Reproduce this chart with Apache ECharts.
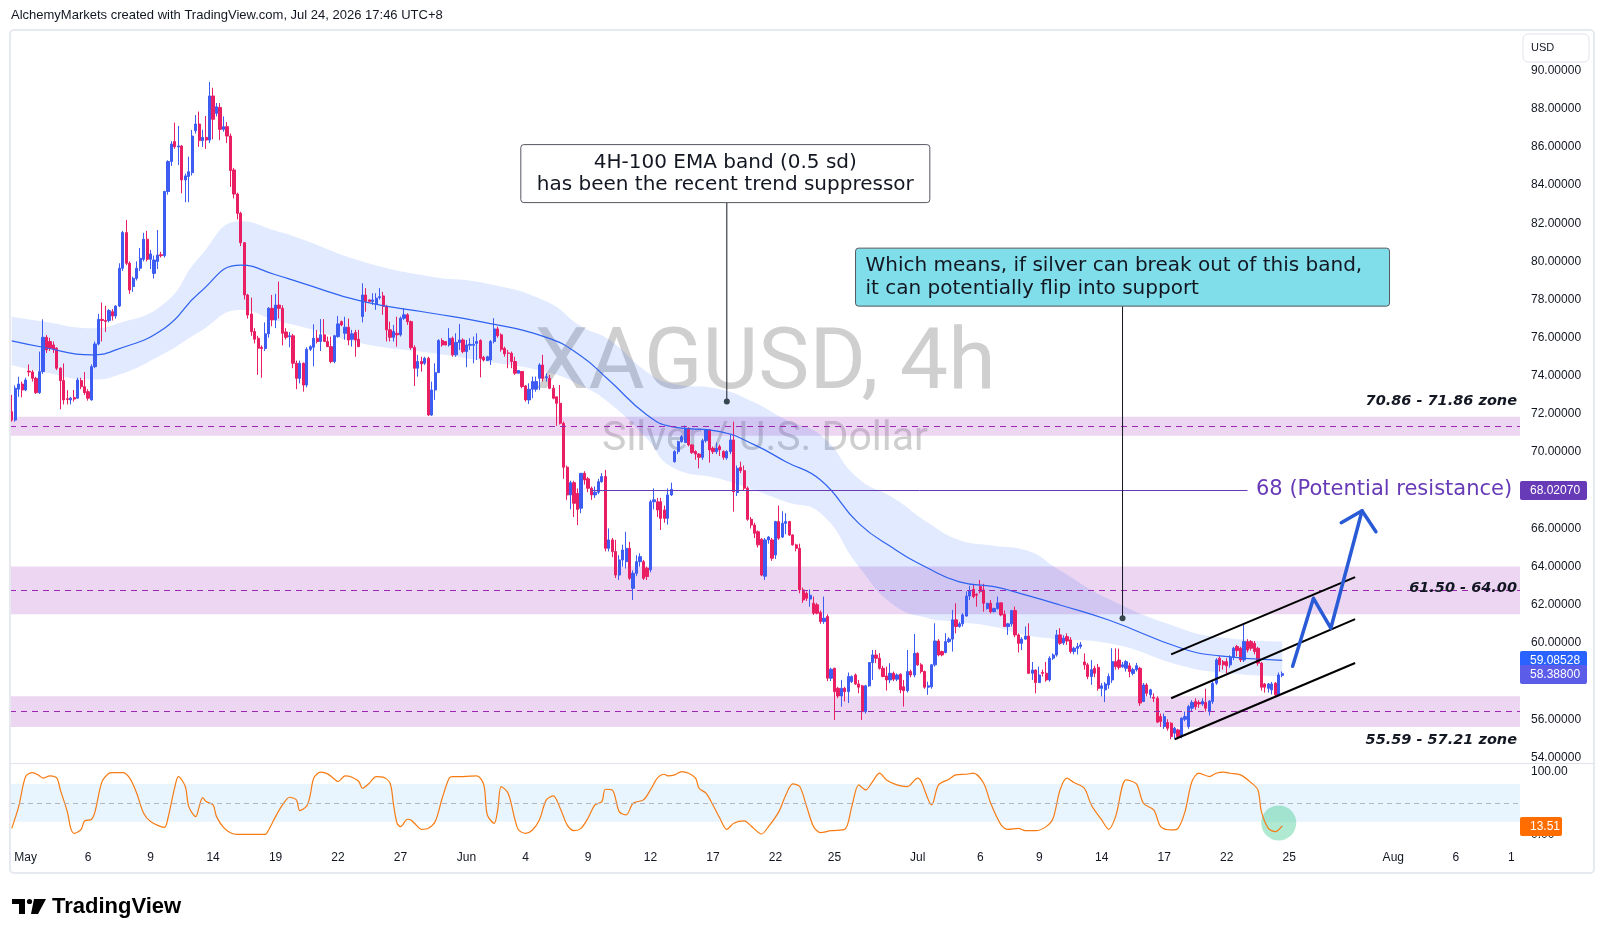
<!DOCTYPE html>
<html>
<head>
<meta charset="utf-8">
<title>XAGUSD 4h</title>
<script src="https://cdn.jsdelivr.net/npm/echarts@6/dist/echarts.min.js"></script>
<style>
html, body { margin: 0; padding: 0; background: #fff; }
#chart { width: 1605px; height: 939px; }
</style>
</head>
<body>
<div id="chart"></div>
<script>
// 4h slots on the time axis, candles first then empty space on the right
var slotCount = 435;
var tickIdx = [4, 22, 40, 58, 76, 94, 112, 131, 148, 166, 184, 202, 220, 237, 261, 279, 296, 314, 332, 350, 368, 398, 416, 432];
var tickLabels = ['May', '6', '9', '14', '19', '22', '27', 'Jun', '4', '9', '12', '17', '22', '25', 'Jul', '6', '9', '14', '17', '22', '25', 'Aug', '6', '1'];

// [open, close, low, high]
var candles = [
  [72.12,71.68,71.6,73.0],[71.68,73.35,71.6,73.5],[73.3,73.57,72.9,73.95],[73.57,73.26,72.87,73.7],[73.26,73.78,73.2,73.9],
  [74.25,74.2,73.98,74.6],[74.2,73.87,73.7,74.3],[73.87,73.12,73.05,73.95],[73.12,74.22,73.05,75.27],[74.22,76.02,74.1,76.96],
  [76.02,75.36,75.2,76.14],[75.8,75.45,75.3,76.0],[75.62,75.4,75.2,75.8],[75.45,74.4,74.3,75.5],[74.4,73.75,72.25,74.45],
  [73.75,72.74,72.5,74.65],[72.8,72.76,72.5,73.25],[72.74,72.83,72.5,72.9],[72.86,72.78,72.65,73.26],[72.83,73.78,72.8,73.9],
  [73.75,73.43,73.3,73.9],[73.43,73.12,73.0,74.2],[73.17,72.83,72.7,73.3],[72.74,74.48,72.7,74.6],[74.48,75.67,74.4,75.8],
  [75.67,76.96,75.6,77.25],[76.96,76.9,75.8,77.84],[76.9,76.85,76.3,77.67],[76.9,77.42,76.8,77.5],[77.36,77.14,76.9,77.5],
  [77.14,77.66,77.0,77.7],[77.66,79.64,77.6,79.9],[79.64,81.51,79.5,81.6],[81.51,79.9,79.8,82.17],[79.9,78.5,78.3,80.0],
  [78.68,79.11,78.4,79.2],[79.11,79.64,79.0,80.0],[79.64,80.16,79.5,80.7],[80.11,81.16,80.0,81.5],[81.16,80.11,80.0,81.6],
  [80.11,80.39,79.6,80.6],[79.37,80.07,79.1,80.3],[80.0,80.33,79.6,81.64],[80.35,80.3,80.2,80.5],[80.3,83.66,80.2,83.7],
  [83.66,85.23,83.5,85.3],[85.23,86.15,85.0,86.3],[86.28,86.01,85.9,87.27],[86.0,86.05,85.05,87.1],[86.05,84.27,83.57,86.1],
  [84.27,84.48,83.1,84.6],[84.45,84.7,83.1,85.49],[84.65,86.57,84.5,86.89],[86.85,87.2,86.7,87.67],[87.2,86.33,86.0,87.85],
  [86.33,86.5,86.0,86.9],[86.5,86.36,85.9,87.62],[86.36,88.67,86.2,89.4],[88.67,87.45,86.4,89.1],[87.76,88.1,87.6,88.3],
  [88.07,86.92,86.35,88.3],[86.92,87.06,86.8,87.6],[87.06,86.57,86.2,87.3],[86.57,84.76,83.9,86.7],[84.79,83.53,83.3,84.9],
  [83.53,82.52,82.2,83.6],[82.52,80.98,80.8,82.6],[80.98,78.24,78.0,81.0],[78.24,77.19,77.0,78.3],[77.24,76.32,76.1,78.1],
  [76.32,75.92,75.7,76.5],[75.97,75.45,74.05,76.1],[75.5,75.43,73.9,75.6],[75.43,76.2,75.3,76.8],[76.2,77.54,76.0,77.6],
  [77.54,76.93,76.6,78.24],[76.93,77.71,76.5,78.3],[77.71,77.54,77.0,78.94],[77.54,76.23,75.6,77.7],[76.3,76.02,75.9,76.5],
  [76.05,76.1,75.5,76.3],[76.1,74.66,74.4,76.2],[74.66,73.87,73.3,74.8],
  [73.87,74.66,73.6,74.8],[74.66,73.52,73.17,74.7],[73.52,75.39,73.4,75.5],[75.39,75.53,75.3,75.6],[75.5,75.97,74.5,76.7],
  [75.97,75.8,75.7,76.4],[75.8,76.15,75.3,76.97],[76.15,75.8,75.8,76.97],[75.8,75.53,75.53,76.06],[75.53,74.75,74.66,76.06],
  [74.75,76.1,74.66,76.15],[76.06,76.72,76.0,77.14],[76.84,76.67,76.6,76.9],[76.23,76.55,75.9,77.1],[76.55,75.88,75.6,77.0],
  [75.92,76.2,75.53,76.41],[76.27,75.88,75.0,76.41],[75.92,75.53,75.53,76.41],[77.11,78.24,76.8,78.85],[78.24,77.9,77.36,78.6],
  [77.98,77.9,77.9,78.0],[77.9,77.98,77.72,78.33],[77.77,78.07,77.46,78.33],[78.1,78.15,78.0,78.6],[78.19,77.63,77.2,78.4],
  [77.63,76.41,75.8,77.72],[76.41,76.02,75.8,76.84],[76.02,76.32,75.8,76.67],[76.23,76.15,75.53,77.1],[76.15,77.02,76.06,77.11],
  [77.02,77.2,76.93,77.55],[77.2,76.84,76.67,77.28],[76.84,75.48,75.36,76.9],[75.48,74.4,73.47,75.6],[74.4,74.75,73.96,75.1],
  [74.75,74.63,74.22,75.0],[74.66,74.92,74.57,75.0],[74.92,71.95,71.9,75.0],[71.95,73.26,71.9,73.7],[73.26,74.17,72.74,74.66],
  [74.17,75.85,74.14,75.92],[75.85,75.62,75.53,75.97],[75.8,75.62,75.6,75.8],[75.62,75.97,75.53,76.5],[75.97,75.1,75.0,76.06],
  [75.1,75.75,75.0,76.23],[75.75,75.88,75.36,76.72],[75.88,75.27,75.18,75.97],[75.27,75.62,74.45,75.88],[75.6,75.65,75.36,75.97],
  [75.6,75.65,74.66,76.06],[75.7,75.8,74.83,76.23],[75.85,74.92,73.92,75.92],[74.97,74.83,74.75,75.05],[74.8,75.0,74.8,75.05],
  [74.83,75.8,74.57,75.88],[75.8,76.46,75.7,77.02],[76.46,76.1,76.0,76.58],[76.15,75.39,75.27,76.23],[75.44,75.15,75.0,75.53],
  [75.2,75.18,74.4,75.36],[75.18,74.75,74.4,75.27],[74.75,74.14,74.05,75.0],[74.14,74.28,74.14,74.3],[74.23,73.44,73.35,74.23],
  [73.47,72.74,72.65,73.52],[72.74,73.3,72.53,73.61],[73.3,73.7,72.83,73.96],[73.3,73.7,73.17,73.96],[73.87,74.57,73.26,74.66],
  [74.57,73.87,73.7,75.1],[73.9,73.95,73.7,74.14],[73.87,73.35,73.3,74.05],[73.35,72.83,72.77,73.52],[72.9,72.56,71.38,72.9],
  [72.56,71.52,71.45,73.52],
  [71.51,69.21,68.6,71.6],[69.21,67.76,67.5,69.3],[67.76,68.4,67.0,68.5],[68.4,67.32,66.6,68.5],[67.84,67.0,66.18,68.1],
  [67.06,68.89,66.8,68.9],[68.89,68.54,68.3,69.0],[68.6,68.11,67.9,68.7],[68.11,67.76,67.5,68.2],[67.76,67.9,67.6,68.2],
  [67.9,68.45,67.8,68.6],[68.45,68.72,68.4,68.9],[68.72,64.96,64.8,69.07],[64.96,65.4,64.8,66.0],[65.4,64.79,64.5,65.5],
  [64.79,63.56,63.4,65.4],[63.56,64.35,63.3,64.6],[64.35,64.87,64.0,65.15],[64.26,64.96,63.9,65.83],[64.96,63.39,63.3,65.3],
  [62.86,63.65,62.25,63.8],[63.65,64.26,63.5,64.6],[64.26,64.52,64.0,64.7],[64.26,63.39,63.3,64.35],[63.92,63.48,63.3,64.0],
  [63.83,67.4,63.7,67.5],[67.4,67.5,67.0,68.1],[67.4,66.97,66.6,67.6],[67.4,66.53,65.92,67.6],[66.97,66.53,66.3,67.2],
  [66.53,67.76,66.2,68.1],[67.76,68.05,67.7,68.4],[69.5,70.03,69.45,70.1],[70.03,70.55,69.9,70.6],[70.55,70.81,70.5,70.9],
  [70.5,71.25,70.5,71.4],[71.25,70.38,70.3,71.3],[70.38,69.98,69.9,70.4],[70.03,69.9,69.6,70.1],[69.9,69.73,69.15,69.95],
  [69.73,70.6,69.6,70.7],[70.6,71.16,70.5,71.2],[71.16,70.12,69.45,71.2],[70.2,70.03,69.9,70.3],[70.03,70.2,69.9,70.5],
  [70.29,70.12,69.8,70.4],[70.03,69.73,69.6,70.1],[69.7,70.03,69.6,70.1],[70.03,70.64,69.9,70.9],[70.64,67.93,66.88,71.6],
  [67.88,69.15,67.7,69.3],[69.2,69.03,68.9,69.5],[69.03,68.11,68.0,69.3],[68.11,66.48,66.4,68.2],[66.48,66.18,66.0,66.6],
  [66.18,65.75,65.5,66.3],[65.83,65.14,65.0,65.9],[65.43,63.56,63.5,65.5],[63.5,65.4,63.3,65.5],[65.4,65.55,65.2,65.6],
  [65.4,64.44,64.3,65.5],[64.61,66.36,64.4,66.4],[66.36,65.49,65.4,67.2],[65.55,66.27,65.5,66.9],[66.27,66.36,65.7,66.8],
  [66.36,65.66,65.6,66.4],[65.66,65.14,65.1,65.7],[65.14,64.96,64.8,65.2],[64.96,62.78,62.6,65.2],[62.78,62.25,62.1,62.9],
  [62.6,62.34,62.2,62.7],[62.3,62.5,61.9,62.8],
  [62.08,61.56,61.47,62.43],[62.0,61.56,61.5,62.1],[61.6,61.12,61.0,61.7],[61.12,61.3,61.0,62.43],[61.38,58.15,58.0,61.5],
  [58.15,58.62,58.0,58.7],[58.67,57.45,55.96,58.7],[57.62,57.22,57.1,57.7],[57.22,57.62,56.66,58.06],[57.62,57.45,56.93,57.7],
  [57.45,58.24,56.85,58.45],[57.97,58.24,57.9,58.3],[58.32,57.85,57.8,58.4],[57.85,57.68,57.36,58.06],[57.75,56.4,55.96,57.8],
  [56.4,57.75,56.3,57.8],[57.75,58.97,57.7,59.0],[58.97,59.37,58.06,59.63],[59.37,59.2,58.94,59.63],[59.2,58.67,58.6,59.46],
  [58.67,58.24,58.2,58.8],[58.27,58.06,57.5,58.76],[58.06,58.41,57.9,58.94],[58.41,58.1,58.0,58.5],[58.1,58.32,58.0,58.4],
  [58.36,57.54,57.36,58.4],[57.7,57.5,56.66,58.06],[57.5,58.5,57.4,59.63],[58.5,58.32,58.2,58.6],[58.32,59.46,58.2,60.47],
  [59.46,58.85,58.8,59.5],[58.85,58.5,58.4,58.94],[58.5,57.68,57.6,58.55],[57.68,57.75,57.28,57.97],[57.7,58.85,57.6,58.9],
  [58.85,60.1,58.76,61.03],[60.1,59.37,59.3,60.2],[59.55,59.37,59.3,59.6],[59.5,60.07,59.45,60.51],[60.07,60.2,60.0,60.3],
  [60.2,61.21,59.55,61.73],[61.21,60.86,60.5,62.08],[60.86,61.0,60.8,61.1],[61.0,61.47,60.86,61.56],[61.41,62.46,61.38,62.7],
  [62.46,62.74,62.25,62.99],[62.81,62.43,62.34,63.04],[62.55,62.5,61.9,62.6],[62.95,62.69,62.6,63.3],[62.78,62.08,61.64,63.1],
  [61.8,62.08,61.75,62.1],[62.08,61.64,61.55,62.25],[61.64,61.8,61.6,61.85],[61.8,62.1,61.75,62.43],[62.1,61.47,61.4,62.1],
  [61.5,60.86,60.86,61.7],[60.86,61.0,60.42,61.05],[61.0,61.7,60.86,61.73],[61.7,60.42,60.3,61.9],[60.42,59.98,59.5,60.5],
  [59.98,60.2,59.63,60.3],[60.2,60.36,60.15,60.86],[60.36,58.41,58.37,61.03],[58.41,58.58,58.06,59.0],[58.58,57.92,57.36,58.6],
  [57.92,58.32,57.9,58.76],[58.45,58.41,58.24,58.6],[58.41,58.06,57.97,59.0],[58.06,59.2,57.97,59.3],[59.2,59.37,59.1,59.45],
  [59.37,60.42,59.28,60.68],
  [60.42,59.98,59.9,60.77],[60.0,60.25,59.9,60.4],[60.33,60.1,59.9,60.5],[60.16,59.55,59.45,60.3],[59.55,59.72,59.4,59.8],
  [59.72,59.81,59.4,60.0],[59.81,59.9,59.7,60.05],[59.0,58.85,58.6,59.45],[58.85,58.24,58.1,58.95],[58.24,58.6,57.8,59.1],
  [58.67,58.41,58.2,58.8],[58.72,57.62,57.5,58.9],[57.62,57.75,57.2,57.9],[57.54,57.85,56.9,57.95],[57.8,58.24,57.6,58.4],
  [58.06,59.02,57.9,59.72],[59.02,58.76,58.6,59.72],[59.1,58.72,58.6,59.7],[58.75,58.85,58.7,59.0],[58.67,59.02,58.5,59.1],
  [58.8,58.5,58.2,58.95],[58.4,58.6,58.3,58.7],[58.6,58.8,58.5,58.95],[58.67,56.85,56.7,58.75],[56.93,57.8,56.9,57.9],
  [57.8,57.36,57.2,57.9],[57.28,57.54,57.1,57.6],[57.15,57.1,56.9,57.36],[57.1,55.85,55.8,57.2],[56.14,55.88,55.6,56.3],
  [55.62,56.14,55.5,56.3],[55.83,55.53,55.4,56.0],[55.79,55.09,54.95,55.85],[55.27,55.53,55.0,55.6],[55.44,55.09,54.95,55.5],
  [55.12,56.05,55.0,56.1],[56.0,56.14,55.9,56.4],[55.62,56.66,55.5,56.75],[56.58,56.88,56.4,57.0],[56.93,56.66,56.5,57.1],
  [56.88,56.8,56.6,57.0],[56.8,56.93,56.7,57.1],[56.88,56.58,56.4,57.6],[56.4,56.95,56.2,57.0],[56.93,57.89,56.8,58.0],
  [57.89,59.11,57.8,59.2],[59.2,58.85,58.5,59.3],[59.02,58.85,58.6,59.1],[59.02,58.8,58.4,59.2],[58.85,59.25,58.7,59.35],
  [59.25,59.72,59.1,59.8],[59.81,59.6,59.3,59.9],[59.72,59.11,59.0,59.8],[59.11,60.07,59.0,61.03],[60.07,59.63,59.5,60.2],
  [60.07,59.72,59.6,60.15],[59.98,59.55,59.4,60.1],[59.72,58.94,58.8,59.8],[58.94,57.68,57.5,59.0],[57.85,57.68,57.4,57.9],
  [57.62,57.85,57.4,57.9],[57.54,57.85,57.3,57.95],[57.89,57.28,57.15,57.95],[57.28,58.32,57.2,58.45],[58.3,58.388,58.2,58.5]
];

// 4H-100 EMA and its 0.5 sd band, read every couple of days
var emaIdx = [0, 9, 23, 30, 44, 54, 66, 76, 83, 101, 121, 135, 154, 164, 172, 183, 190, 204, 214, 223, 233, 244, 254, 264, 273, 283, 292, 302, 316, 337, 348, 366];
var emaMid = [75.83, 75.5, 75.1, 75.36, 76.5, 78.34, 79.8, 79.3, 78.9, 77.9, 77.28, 76.84, 76.02, 75.04, 73.78, 71.95, 71.34, 71.08, 70.38, 69.5, 68.54, 66.27, 64.96, 63.91, 63.2, 62.95, 62.52, 61.99, 61.2, 59.72, 59.32, 59.08528];
var emaUp = [77.1, 76.85, 76.5, 76.7, 77.8, 80.2, 82.1, 81.6, 81.2, 80.0, 79.2, 78.9, 77.9, 76.6, 75.9, 74.2, 73.6, 73.3, 72.6, 71.7, 70.9, 68.6, 67.6, 66.3, 65.4, 65.1, 64.87, 63.8, 62.3, 60.75, 60.3, 60.07];
var emaLow = [74.57, 74.2, 73.8, 74.0, 75.18, 76.3, 77.45, 76.9, 76.6, 75.7, 75.2, 74.8, 74.2, 73.5, 72.6, 70.7, 69.24, 68.6, 68.0, 67.4, 66.8, 64.0, 62.0, 61.3, 61.1, 60.85, 60.42, 60.2, 59.98, 58.8, 58.45, 58.24];

// stochastic RSI
var stochIdx = [0, 2, 4, 6, 8, 9, 11, 13, 14, 16, 17, 18, 20, 21, 23, 24, 26, 28, 29, 32, 34, 36, 38, 40, 44, 45, 47, 48, 50, 51, 53, 54, 55, 56, 58, 59, 61, 63, 65, 69, 73, 74, 76, 78, 80, 82, 83, 85, 86, 87, 89, 91, 93, 94, 96, 98, 100, 101, 103, 105, 107, 109, 110, 111, 112, 114, 115, 116, 118, 120, 122, 124, 126, 127, 130, 134, 136, 137, 139, 140, 141, 143, 145, 146, 148, 150, 152, 154, 156, 158, 160, 162, 164, 166, 168, 170, 171, 173, 175, 177, 179, 182, 184, 186, 188, 189, 191, 193, 195, 197, 198, 200, 202, 204, 206, 208, 211, 213, 216, 218, 221, 223, 225, 227, 229, 231, 233, 236, 240, 242, 244, 246, 248, 250, 252, 255, 258, 261, 262, 265, 267, 270, 272, 275, 277, 280, 282, 285, 287, 290, 292, 295, 298, 300, 302, 304, 306, 309, 311, 314, 316, 318, 321, 324, 326, 329, 331, 334, 336, 338, 340, 342, 345, 347, 349, 351, 354, 357, 359, 360, 362, 364, 366];
var stochVal = [9.5, 44, 91.8, 98.2, 92.9, 89.2, 92.9, 89.2, 70.6, 36.1, 9.5, 1.6, 7.9, 21.2, 23.9, 36.1, 83.8, 97.1, 98.2, 98.2, 89.2, 65.3, 33.4, 20.2, 11.1, 25.5, 75.9, 91.8, 75.9, 44, 28.1, 44, 58.4, 52, 46.7, 28.1, 11.1, 2.6, 0, 0, 0, 6.9, 28.1, 46.7, 58.9, 54.7, 37.7, 45.1, 62.6, 89.2, 98.7, 96.1, 87.6, 83.9, 92.9, 90.8, 83.9, 73.2, 81.2, 91.8, 90.8, 81.2, 46.7, 17.5, 12.2, 23.9, 22.8, 17.5, 7.9, 9.5, 20.2, 57.3, 89.2, 91.8, 91.8, 92.9, 78.5, 30.8, 17.5, 38.7, 75.9, 65.3, 22.8, 6.9, 1.6, 6.9, 22.8, 54.7, 61, 41.4, 14.9, 5.8, 9.5, 25.5, 46.7, 52, 71.6, 70.6, 36.1, 30.8, 49.4, 54.7, 70.6, 89.2, 95.5, 92.9, 94.5, 99.8, 97.1, 89.2, 73.2, 65.3, 46.7, 25.5, 7.9, 17.5, 21.2, 13.3, 0.5, 12.2, 36.1, 62.6, 80.1, 75.9, 44, 12.2, 2.6, 5.8, 7.9, 44, 78.5, 70.6, 83.9, 97.1, 86.5, 78.5, 75.9, 89.2, 83.9, 46.7, 78.5, 87.6, 94.5, 95.5, 97.1, 81.2, 49.4, 14.9, 7.9, 9.5, 5.8, 5.8, 12.2, 25.5, 70.6, 89.2, 82.3, 73.2, 46.7, 22.8, 7.9, 28.1, 86.5, 80.1, 49.4, 38.7, 12.2, 6.9, 9.5, 36.1, 83.9, 97.1, 91.8, 97.1, 98.7, 97.1, 94.5, 82.3, 70.6, 36.1, 9.5, 4.2, 13.51];

// horizontal zones
var zoneLow = [70.86, 61.5, 55.59];
var zoneHigh = [71.86, 64.0, 57.21];
var zoneMid = [71.36, 62.75, 56.4];
var zoneText = ['70.86 - 71.86 zone', '61.50 - 64.00', '55.59 - 57.21 zone'];
var zoneTextAt = [72.65, 62.85, 54.92];

var resLevel = 68.0207;
var resSpan = [167, 356];
var channel = [[[334, 59.4], [387, 63.45]], [[334, 57.1], [387, 61.25]], [[335, 54.95], [387, 58.95]]];
var arrowPath = [[369, 58.78], [375, 62.34], [380, 60.77], [389, 66.93]];
var arrowHead = [[383, 66.3], [389, 66.93], [393, 65.83]];

var lastEma = 59.08528;
var lastClose = 58.388;
var lastStoch = 13.51;

var cats = [];
for (var i = 0; i < slotCount; i++) cats.push(String(i));

var upColor = '#3c5cf2';
var downColor = '#e91e63';
var axisFont = '"Liberation Sans", Arial, sans-serif';
var noteFont = '"DejaVu Sans", Verdana, sans-serif';

var chart = echarts.init(document.getElementById('chart'));

var option = {
  animation: false,
  backgroundColor: '#ffffff',
  grid: [
    {left: 10, right: 85, top: 70.6, bottom: 181.6},
    {left: 10, right: 85, top: 771.4, bottom: 104.7}
  ],
  xAxis: [
    {type: 'category', gridIndex: 0, data: cats, boundaryGap: true,
      axisLine: {show: false}, axisTick: {show: false}, axisLabel: {show: false}, splitLine: {show: false}},
    {type: 'category', gridIndex: 1, data: cats, boundaryGap: true,
      axisLine: {show: false}, axisTick: {show: false}, splitLine: {show: false},
      axisLabel: {
        interval: function(idx) { return tickIdx.indexOf(idx) >= 0; },
        formatter: function(v, idx) {
          var k = tickIdx.indexOf(idx);
          return k >= 0 ? tickLabels[k] : '';
        },
        color: '#131722', fontSize: 12, margin: 17, fontFamily: axisFont
      }}
  ],
  yAxis: [
    {type: 'value', gridIndex: 0, position: 'right', min: 54, max: 90, interval: 2,
      splitLine: {show: false}, axisLine: {show: false}, axisTick: {show: false},
      axisLabel: {formatter: function(v) { return v.toFixed(5); }, color: '#131722', fontSize: 12,
        margin: 11, align: 'left', fontFamily: axisFont}},
    {type: 'value', gridIndex: 1, position: 'right', min: 0, max: 100, interval: 100,
      splitLine: {show: false}, axisLine: {show: false}, axisTick: {show: false},
      axisLabel: {formatter: function(v) { return v.toFixed(2); }, color: '#131722', fontSize: 12,
        margin: 11, align: 'left', fontFamily: axisFont}}
  ],
  series: [
    {
      name: 'bandLow', type: 'line', stack: 'band', smooth: true, symbol: 'none', silent: true,
      data: emaIdx.map(function(x, k) { return [x, emaLow[k]]; }),
      lineStyle: {opacity: 0}, z: 2,
      markArea: {
        silent: true,
        itemStyle: {color: 'rgba(180,90,200,0.25)'},
        data: zoneLow.map(function(lo, k) { return [{yAxis: lo}, {yAxis: zoneHigh[k]}]; })
      },
      markLine: {
        silent: true, symbol: ['none', 'none'], label: {show: false},
        lineStyle: {color: '#9c27b0', type: [6, 5], width: 1},
        data: zoneMid.map(function(v) { return {yAxis: v}; })
      }
    },
    {
      name: 'bandWidth', type: 'line', stack: 'band', smooth: true, symbol: 'none', silent: true,
      data: emaIdx.map(function(x, k) { return [x, emaUp[k] - emaLow[k]]; }),
      lineStyle: {opacity: 0}, areaStyle: {color: 'rgba(41,98,255,0.19)'}, z: 2
    },
    {
      name: 'XAGUSD', type: 'candlestick', data: candles, barWidth: '78%', z: 3,
      itemStyle: {color: upColor, color0: downColor, borderColor: upColor, borderColor0: downColor, borderWidth: 1}
    },
    {
      name: 'EMA', type: 'line', smooth: true, symbol: 'none', silent: true, z: 4,
      data: emaIdx.map(function(x, k) { return [x, emaMid[k]]; }),
      lineStyle: {color: '#2f62f0', width: 1.2},
      markLine: {
        silent: true, symbol: ['none', 'none'], label: {show: false},
        data: [
          [{coord: [resSpan[0], resLevel], lineStyle: {color: '#673ab7', width: 1, type: 'solid'}},
           {coord: [resSpan[1], resLevel]}]
        ].concat(channel.map(function(c) {
          return [{coord: c[0], lineStyle: {color: '#000000', width: 2, type: 'solid'}}, {coord: c[1]}];
        }))
      }
    },
    {
      name: 'arrow', type: 'line', symbol: 'none', silent: true, z: 6, data: arrowPath,
      lineStyle: {color: '#2a5bd7', width: 3.5, cap: 'round', join: 'round'}
    },
    {
      name: 'arrowHead', type: 'line', symbol: 'none', silent: true, z: 6, data: arrowHead,
      lineStyle: {color: '#2a5bd7', width: 3.5, cap: 'round', join: 'round'}
    },
    {
      name: 'mark', type: 'scatter', xAxisIndex: 1, yAxisIndex: 1, silent: true, z: 2,
      data: [[365, 18]], symbolSize: 35, itemStyle: {color: 'rgba(72,206,150,0.55)'}
    },
    {
      name: 'Stoch RSI', type: 'line', xAxisIndex: 1, yAxisIndex: 1, smooth: 0.3, symbol: 'none', silent: true, z: 3,
      data: stochIdx.map(function(x, k) { return [x, stochVal[k]]; }),
      lineStyle: {color: '#f77b12', width: 1.2},
      markArea: {
        silent: true, itemStyle: {color: 'rgba(33,150,243,0.1)'},
        data: [[{yAxis: 20}, {yAxis: 80}]]
      },
      markLine: {
        silent: true, symbol: ['none', 'none'], label: {show: false},
        lineStyle: {color: '#b2b5be', type: [5, 4], width: 1},
        data: [{yAxis: 50}]
      }
    }
  ]
};

chart.setOption(option);

function px(i, v) { return chart.convertToPixel({gridIndex: 0}, [i, v]); }
function py(v) { return chart.convertToPixel({yAxisIndex: 0}, v); }
function sy(v) { return chart.convertToPixel({yAxisIndex: 1}, v); }

function tag(y, text, color, w) {
  return [
    {type: 'rect', z: 60, shape: {x: 1520, y: Math.round(y) - 9, width: w, height: 19, r: 2}, style: {fill: color}},
    {type: 'text', z: 61, x: 1530, y: Math.round(y) + 0.5,
      style: {text: text, fill: '#ffffff', font: '12px ' + axisFont, verticalAlign: 'middle'}}
  ];
}

var g = [];
// frame and pane separator
g.push({type: 'rect', z: 70, shape: {x: 10, y: 30, width: 1584, height: 843, r: 4}, style: {fill: 'none', stroke: '#e6e9ef', lineWidth: 2}});
g.push({type: 'line', z: 70, shape: {x1: 10, y1: 763.5, x2: 1594, y2: 763.5}, style: {stroke: '#e0e3eb', lineWidth: 1}});
g.push({type: 'text', z: 70, x: 11, y: 15.5, style: {text: 'AlchemyMarkets created with TradingView.com, Jul 24, 2026 17:46 UTC+8',
  fill: '#131722', font: '13px ' + axisFont, verticalAlign: 'middle'}});

// watermark
g.push({type: 'text', z: 0, x: 765, y: 366, style: {text: 'XAGUSD, 4h', fill: '#cfcfcf', font: '86px Roboto', align: 'center', verticalAlign: 'middle'}});
g.push({type: 'text', z: 0, x: 765, y: 440, style: {text: 'Silver / U.S. Dollar', fill: '#cfcfcf', font: '41px Roboto', align: 'center', verticalAlign: 'middle'}});

// currency box
g.push({type: 'rect', z: 60, shape: {x: 1523, y: 34, width: 66, height: 28, r: 5}, style: {fill: '#ffffff', stroke: '#e0e3eb', lineWidth: 1}});
g.push({type: 'text', z: 61, x: 1531, y: 48, style: {text: 'USD', fill: '#131722', font: '11px ' + axisFont, verticalAlign: 'middle'}});

// zone labels
zoneText.forEach(function(t, k) {
  g.push({type: 'text', z: 40, x: 1517, y: py(zoneTextAt[k]),
    style: {text: t, fill: '#131722', font: 'italic bold 14.5px ' + noteFont, align: 'right', verticalAlign: 'middle'}});
});

// resistance label
g.push({type: 'text', z: 40, x: 1256, y: py(resLevel),
  style: {text: '68 (Potential resistance)', fill: '#673ab7', font: '21px ' + noteFont, verticalAlign: 'middle'}});

// annotation boxes with connectors
var notes = [
  {lines: ['4H-100 EMA band (0.5 sd)', 'has been the recent trend suppressor'], at: [206, 72.65],
    left: -206, top: -257, w: 409, h: 58, fill: '#ffffff', stroke: '#55585f', align: 'center'},
  {lines: ['Which means, if silver can break out of this band,', 'it can potentially flip into support'], at: [320, 61.3],
    left: -267, top: -370, w: 534, h: 58, fill: '#80deea', stroke: '#55585f', align: 'left'}
];
notes.forEach(function(n) {
  var p = px(n.at[0], n.at[1]);
  var bx = p[0] + n.left, by = p[1] + n.top;
  g.push({type: 'line', z: 50, shape: {x1: p[0], y1: by + n.h, x2: p[0], y2: p[1]}, style: {stroke: '#131722', lineWidth: 1}});
  g.push({type: 'circle', z: 51, shape: {cx: p[0], cy: p[1], r: 3}, style: {fill: '#37474f'}});
  g.push({type: 'rect', z: 52, shape: {x: bx, y: by, width: n.w, height: n.h, r: 3}, style: {fill: n.fill, stroke: n.stroke, lineWidth: 1}});
  n.lines.forEach(function(t, j) {
    g.push({type: 'text', z: 53, x: n.align === 'center' ? bx + n.w / 2 : bx + 10, y: by + 18 + j * 22.5,
      style: {text: t, fill: '#131722', font: '20px ' + noteFont, align: n.align, verticalAlign: 'middle'}});
  });
});

// price tags on the right scale
g = g.concat(tag(py(resLevel), resLevel.toFixed(5), '#673ab7', 67));
g = g.concat(tag(py(lastEma), lastEma.toFixed(5), '#2962ff', 67));
g = g.concat(tag(py(lastClose), lastClose.toFixed(5), '#5b5ce8', 67));
g = g.concat(tag(sy(lastStoch), lastStoch.toFixed(2), '#ff6d00', 42));

// TradingView logo
g.push({type: 'rect', z: 70, shape: {x: 12, y: 899, width: 13, height: 5}, style: {fill: '#000'}});
g.push({type: 'rect', z: 70, shape: {x: 19, y: 899, width: 6, height: 15}, style: {fill: '#000'}});
g.push({type: 'circle', z: 70, shape: {cx: 29.5, cy: 901.5, r: 2.6}, style: {fill: '#000'}});
g.push({type: 'polygon', z: 70, shape: {points: [[34, 899], [46, 899], [38, 914], [31, 914]]}, style: {fill: '#000'}});
g.push({type: 'text', z: 70, x: 52, y: 907, style: {text: 'TradingView', fill: '#000', font: 'bold 22px ' + axisFont, verticalAlign: 'middle'}});

chart.setOption({graphic: g});
</script>
</body>
</html>
